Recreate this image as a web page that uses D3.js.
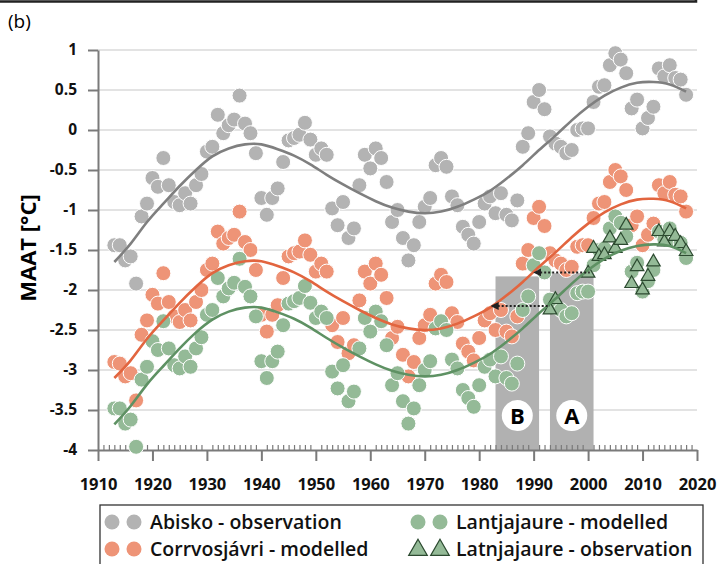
<!DOCTYPE html>
<html>
<head>
<meta charset="utf-8">
<script src="https://cdnjs.cloudflare.com/ajax/libs/d3/7.8.5/d3.min.js"></script>
<style>
body { margin: 0; background: #fff; }
text { font-family: "Open Sans", sans-serif; }
</style>
</head>
<body>
<script>
var width = 718,
    height = 564;

// yearly MAAT values, 1913-2018
var years = d3.range(1913, 2019);

var abisko = [
  -1.44, -1.44, -1.63, -1.58, -1.92, -1.08, -0.92,
  -0.6, -0.71, -0.35, -0.69, -0.9, -0.94, -0.79, -0.92, -0.69, -0.55,
  -0.27, -0.21, 0.19, -0.04, 0.06, 0.13, 0.43, 0.08, -0.04, -0.29,
  -0.85, -1.06, -0.85, -0.73, -0.4, -0.13, -0.1, -0.06, 0.09, -0.12,
  -0.31, -0.23, -0.31, -0.98, -1.19, -0.9, -1.35, -1.23, -0.69, -0.31,
  -0.48, -0.23, -0.35, -0.65, -1.15, -1.0, -1.35, -1.63, -1.44, -1.15,
  -0.96, -0.85, -0.44, -0.35, -0.46, -0.83, -0.94, -1.21, -1.31, -1.42,
  -1.15, -0.92, -0.83, -1.04, -0.79, -1.06, -1.13, -0.88, -0.21, -0.04,
  0.35, 0.5, 0.26, -0.08, -0.17, -0.21, -0.29, -0.25, 0, 0.02,
  0.02, 0.35, 0.54, 0.56, 0.81, 0.96, 0.88, 0.71, 0.27, 0.38,
  0.02, 0.15, 0.29, 0.77, 0.67, 0.81, 0.65, 0.63, 0.44
];

var corrvosjavri = [
  -2.9, -2.92, -3.08, -3.04, -3.38, -2.56, -2.38,
  -2.06, -2.17, -1.79, -2.15, -2.33, -2.4, -2.25, -2.38, -2.15, -2.0,
  -1.75, -1.67, -1.27, -1.42, -1.35, -1.31, -1.02, -1.4, -1.5, -1.75,
  -2.31, -2.52, -2.31, -2.19, -1.85, -1.58, -1.54, -1.52, -1.38, -1.56,
  -1.77, -1.67, -1.77, -2.44, -2.65, -2.35, -2.79, -2.69, -2.13, -1.77,
  -1.92, -1.67, -1.81, -2.1, -2.6, -2.46, -2.81, -3.08, -2.9, -2.6,
  -2.44, -2.31, -1.92, -1.81, -1.9, -2.29, -2.4, -2.67, -2.77, -2.88,
  -2.6, -2.38, -2.29, -2.5, -2.25, -2.52, -2.58, -2.33, -1.67, -1.5,
  -1.1, -0.96, -1.2, -1.54, -1.63, -1.67, -1.75, -1.71, -1.46, -1.44,
  -1.44, -1.1, -0.92, -0.9, -0.65, -0.5, -0.58, -0.75, -1.19, -1.08,
  -1.44, -1.31, -1.17, -0.69, -0.79, -0.65, -0.81, -0.83, -1.02
];

var lantjajaure = [
  -3.48, -3.48, -3.67, -3.62, -3.96, -3.12, -2.96,
  -2.64, -2.75, -2.39, -2.73, -2.94, -2.98, -2.83, -2.96, -2.73, -2.59,
  -2.31, -2.25, -1.85, -2.08, -1.98, -1.91, -1.61, -1.96, -2.08, -2.33,
  -2.89, -3.1, -2.89, -2.77, -2.44, -2.17, -2.14, -2.1, -1.95, -2.16,
  -2.35, -2.27, -2.35, -3.02, -3.23, -2.94, -3.39, -3.27, -2.73, -2.35,
  -2.52, -2.27, -2.39, -2.69, -3.19, -3.04, -3.39, -3.67, -3.48, -3.19,
  -3.0, -2.89, -2.48, -2.39, -2.5, -2.87, -2.98, -3.25, -3.35, -3.46,
  -3.19, -2.96, -2.87, -3.08, -2.83, -3.1, -3.17, -2.92, -2.25, -2.08,
  -1.69, -1.54, -1.78, -2.12, -2.21, -2.25, -2.33, -2.29, -2.04, -2.02,
  -2.02, -1.69, -1.5, -1.48, -1.23, -1.08, -1.16, -1.33, -1.77, -1.66,
  -2.02, -1.89, -1.75, -1.27, -1.37, -1.23, -1.39, -1.41, -1.6
];

// Latnjajaure observations
var latnYears = [1993, 1994, 2000, 2001, 2002, 2003, 2004, 2005, 2006, 2007, 2008,
                 2009, 2010, 2011, 2012, 2013, 2014, 2015, 2016, 2017, 2018];
var latnjajaure = [-2.25, -2.12, -1.79, -1.48, -1.58, -1.56, -1.35, -1.48, -1.38, -1.19, -1.92,
                   -1.71, -2.0, -1.83, -1.65, -1.27, -1.4, -1.27, -1.33, -1.42, -1.52];

// trend lines, read every 3 years
var fitYears = d3.range(1913, 2019, 3);
var abiskoFit = [-1.65, -1.42, -1.15, -0.92, -0.7, -0.5, -0.33, -0.23, -0.18, -0.18, -0.24, -0.32,
                 -0.43, -0.56, -0.68, -0.79, -0.89, -0.97, -1.02, -1.04, -1.02, -0.96, -0.87, -0.76,
                 -0.61, -0.44, -0.25, -0.07, 0.12, 0.29, 0.43, 0.53, 0.59, 0.6, 0.57, 0.48];
var corrvosFit = [-3.1, -2.88, -2.61, -2.38, -2.16, -1.96, -1.79, -1.69, -1.64, -1.64, -1.7, -1.78,
                  -1.89, -2.02, -2.14, -2.25, -2.35, -2.43, -2.48, -2.5, -2.48, -2.42, -2.33, -2.22,
                  -2.07, -1.9, -1.71, -1.53, -1.34, -1.17, -1.03, -0.93, -0.87, -0.86, -0.89, -0.98];
var lantjaFit = [-3.68, -3.45, -3.18, -2.95, -2.73, -2.53, -2.37, -2.27, -2.22, -2.22, -2.28, -2.36,
                 -2.47, -2.6, -2.72, -2.83, -2.93, -3.01, -3.06, -3.08, -3.06, -3.0, -2.91, -2.8,
                 -2.65, -2.48, -2.29, -2.11, -1.92, -1.75, -1.61, -1.51, -1.45, -1.43, -1.45, -1.54];

// shaded periods and shift arrows
var periodLabels = ["B", "A"];
var periodStart = [1983, 1993];
var periodEnd = [1991, 2001];
var periodTop = [-1.83, -1.79];
var arrowLevel = [-2.2, -1.78];
var arrowFrom = [1993, 2000.3];
var arrowTo = [1983.4, 1991.2];

var yTicks = d3.range(-4, 1.01, 0.5);
var xTicks = d3.range(1910, 2021, 10);
var minorYears = d3.range(1911, 2020).filter(function(d) { return d % 10 != 0; });

var grey = "#b3b3b3", orange = "#ee9477", green = "#94ba97";

var svg = d3.select("body").append("svg")
    .attr("width", width)
    .attr("height", height);

var x = d3.scaleLinear().domain([1910, 2020]).range([98, 697]);
var y = d3.scaleLinear().domain([-4, 1]).range([450, 50]);

var defs = svg.append("defs");
defs.append("marker")
    .attr("id", "head")
    .attr("viewBox", "0 0 8 8")
    .attr("refX", 1).attr("refY", 4)
    .attr("markerWidth", 8).attr("markerHeight", 8)
    .attr("markerUnits", "userSpaceOnUse")
    .attr("orient", "auto-start-reverse")
  .append("path")
    .attr("d", "M0,0 L8,4 L0,8 Z")
    .attr("fill", "#222");

// remnant of the panel above
svg.append("path")
    .attr("d", "M0,1.5 H696 V-2")
    .attr("fill", "none")
    .attr("stroke", "#222")
    .attr("stroke-width", 2.5);

svg.append("text")
    .attr("x", 8).attr("y", 28)
    .style("font-size", "19px")
    .text("(b)");

// gridlines
svg.append("g").selectAll("line")
    .data(yTicks.filter(function(d) { return d > -4; }))
  .enter().append("line")
    .attr("x1", x(1910)).attr("x2", x(2020))
    .attr("y1", function(d) { return y(d); })
    .attr("y2", function(d) { return y(d); })
    .attr("stroke", "#dadada")
    .attr("stroke-width", 1.3);

// periods
svg.append("g").selectAll("rect")
    .data(periodLabels)
  .enter().append("rect")
    .attr("x", function(d, i) { return x(periodStart[i]); })
    .attr("width", function(d, i) { return x(periodEnd[i]) - x(periodStart[i]); })
    .attr("y", function(d, i) { return y(periodTop[i]); })
    .attr("height", function(d, i) { return y(-4) - y(periodTop[i]); })
    .attr("fill", "#b1b1b1");

// axes
var yAxis = svg.append("g")
    .attr("transform", "translate(" + x(1910) + ",0)")
    .call(d3.axisLeft(y).tickValues(yTicks).tickSize(10).tickSizeOuter(0).tickPadding(11)
      .tickFormat(function(d) { return String(+d.toFixed(1)); }));

var xAxis = svg.append("g")
    .attr("transform", "translate(0," + y(-4) + ")")
    .call(d3.axisBottom(x).tickValues(xTicks).tickSize(11).tickSizeOuter(0).tickPadding(17)
      .tickFormat(d3.format("d")));

svg.append("g")
    .attr("transform", "translate(0," + y(-4) + ")")
    .call(d3.axisBottom(x).tickValues(minorYears).tickSize(-5).tickFormat(""))
    .call(function(g) { g.select(".domain").remove(); })
    .selectAll("line")
    .attr("stroke", "#7a7a7a")
    .attr("stroke-width", 1.2);

[yAxis, xAxis].forEach(function(g) {
  g.selectAll(".domain, line").attr("stroke", "#7a7a7a").attr("stroke-width", 2);
  g.selectAll("text")
      .attr("fill", "#111")
      .style("font-weight", "700")
      .style("font-family", "'Open Sans', sans-serif");
});
yAxis.selectAll("text").style("font-size", "15.5px");
xAxis.selectAll("text").style("font-size", "16.5px");

svg.append("text")
    .attr("transform", "translate(36,248) rotate(-90)")
    .attr("text-anchor", "middle")
    .style("font-size", "22px")
    .style("font-weight", "700")
    .text("MAAT [°C]");

// points
function dots(values, colour) {
  svg.append("g").selectAll("circle")
      .data(values)
    .enter().append("circle")
      .attr("cx", function(d, i) { return x(years[i]); })
      .attr("cy", function(d) { return y(d); })
      .attr("r", 7.5)
      .attr("fill", colour)
      .attr("stroke", "#fff")
      .attr("stroke-width", 1);
}
dots(abisko, grey);
dots(corrvosjavri, orange);
dots(lantjajaure, green);

var tri = d3.symbol().type(d3.symbolTriangle).size(80);
svg.append("g").selectAll("path")
    .data(latnjajaure)
  .enter().append("path")
    .attr("d", tri)
    .attr("transform", function(d, i) { return "translate(" + x(latnYears[i]) + "," + y(d) + ")"; })
    .attr("fill", green)
    .attr("stroke", "#2c4a30")
    .attr("stroke-width", 1.2);

// trend lines
var line = d3.line()
    .x(function(d, i) { return x(fitYears[i]); })
    .y(function(d) { return y(d); })
    .curve(d3.curveNatural);

[[abiskoFit, "#7f7f7f"], [corrvosFit, "#e2653f"], [lantjaFit, "#5e9163"]].forEach(function(s) {
  svg.append("path")
      .datum(s[0])
      .attr("d", line)
      .attr("fill", "none")
      .attr("stroke", s[1])
      .attr("stroke-width", 2.6);
});

// shift arrows
svg.append("g").selectAll("line")
    .data(arrowLevel)
  .enter().append("line")
    .attr("x1", function(d, i) { return x(arrowTo[i]); })
    .attr("x2", function(d, i) { return x(arrowFrom[i]); })
    .attr("y1", function(d) { return y(d); })
    .attr("y2", function(d) { return y(d); })
    .attr("stroke", "#222")
    .attr("stroke-width", 2)
    .attr("stroke-dasharray", "2,2")
    .attr("marker-start", "url(#head)");

// period labels
var lab = svg.append("g").selectAll("g")
    .data(periodLabels)
  .enter().append("g")
    .attr("transform", function(d, i) {
      return "translate(" + x((periodStart[i] + periodEnd[i]) / 2) + "," + y(-3.57) + ")";
    });
lab.append("circle").attr("r", 15.5).attr("fill", "#fff");
lab.append("text")
    .attr("text-anchor", "middle")
    .attr("dy", "0.36em")
    .style("font-size", "22px")
    .style("font-weight", "700")
    .text(function(d) { return d; });

// legend
var legend = svg.append("g");
legend.append("rect")
    .attr("x", 100).attr("y", 505)
    .attr("width", 603).attr("height", 80)
    .attr("fill", "#fff")
    .attr("stroke", "#333")
    .attr("stroke-width", 1.3);

var legNames = ["Abisko - observation", "Corrvosjávri - modelled", "Lantjajaure - modelled", "Latnjajaure - observation"];
var legColours = [grey, orange, green, green];
var legCol = [0, 0, 1, 1];
var legRow = [0, 1, 0, 1];

var item = legend.selectAll("g")
    .data(legNames)
  .enter().append("g")
    .attr("transform", function(d, i) { return "translate(" + (112 + legCol[i] * 306) + "," + (522 + legRow[i] * 27) + ")"; });

item.each(function(d, i) {
  var g = d3.select(this);
  [0, 22].forEach(function(dx) {
    if (i == 3) {
      g.append("path")
          .attr("d", d3.symbol().type(d3.symbolTriangle).size(150))
          .attr("transform", "translate(" + dx + ",1)")
          .attr("fill", green)
          .attr("stroke", "#2c4a30")
          .attr("stroke-width", 1.2);
    } else {
      g.append("circle")
          .attr("cx", dx).attr("r", 7.5)
          .attr("fill", legColours[i]);
    }
  });
  g.append("text")
      .attr("x", 38)
      .attr("dy", "0.35em")
      .style("font-size", "19.5px")
      .style("font-weight", "600")
      .attr("fill", "#111")
      .text(d);
});
</script>
</body>
</html>
